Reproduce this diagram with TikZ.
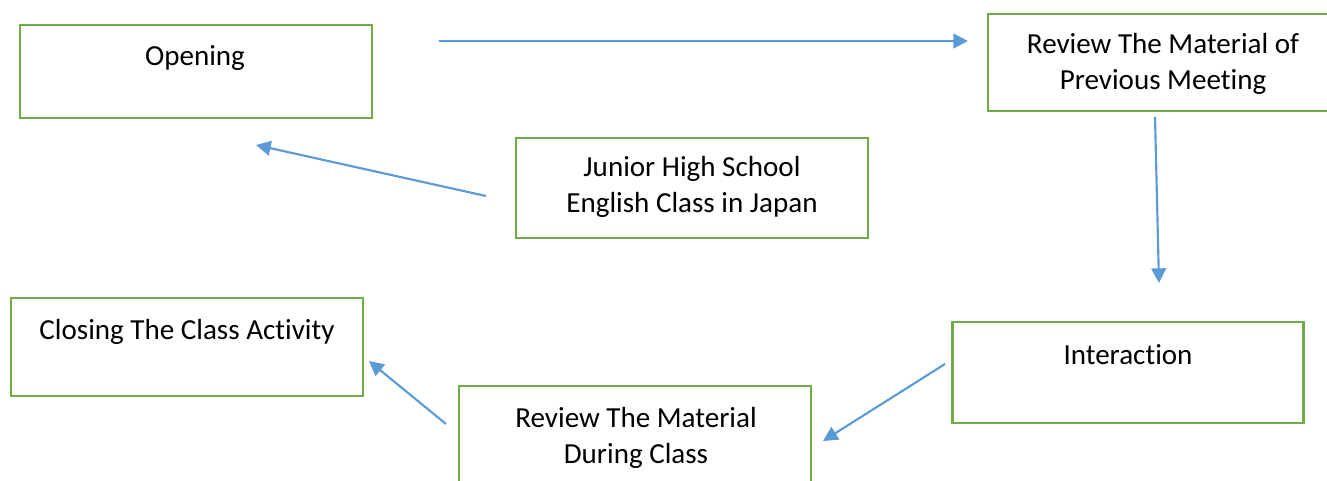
\documentclass[tikz,border=0pt]{standalone}
\usepackage{fontspec}
\setmainfont[Ligatures=NoCommon]{Carlito}
\usetikzlibrary{arrows.meta}
\definecolor{boxgreen}{HTML}{70AD47}
\definecolor{arrblue}{HTML}{5B9BD5}
\tikzset{
  box/.style={draw=boxgreen, line width=1.8pt, fill=white, inner sep=0pt},
  txt/.style={align=center, inner sep=0pt, font=\fontsize{21.8pt}{27pt}\selectfont, text=black},
  conn/.style={draw=arrblue, line width=1.6pt, -{Triangle[length=11pt,width=11pt]}}
}
\begin{document}
\begin{tikzpicture}[x=0.75pt,y=-0.75pt]
\useasboundingbox (0,0) rectangle (1327,481);
\clip (0,0) rectangle (1327,481);
% boxes
\node[box, minimum width=352*0.75pt, minimum height=93*0.75pt] (open) at (196,71.5) {};
\node[box, minimum width=350*0.75pt, minimum height=97*0.75pt] (prev) at (1163,62.5) {};
\node[box, minimum width=352*0.75pt, minimum height=100*0.75pt] (jhs) at (692,188) {};
\node[box, minimum width=352*0.75pt, minimum height=98*0.75pt] (clos) at (187,347) {};
\node[box, minimum width=351*0.75pt, minimum height=101*0.75pt] (inter) at (1128,372.5) {};
\node[box, minimum width=352*0.75pt, minimum height=110*0.75pt] (dur) at (635,441) {};
% texts
\node[txt] (topen) at (195,58) {Opening};
\node[txt] (tprev) at (1163,64) {Review The Material of\\Previous Meeting};
\node[txt] (tjhs) at (692,186.5) {Junior High School\\English Class in Japan};
\node[txt] (tclos) at (187,332) {Closing The Class Activity};
\node[txt] (tinter) at (1128,355) {Interaction};
\node[txt] (tdur) at (636,437.5) {Review The Material\\During Class};
% connector ends
\coordinate (a1s) at (439,41);
\coordinate (a1e) at (968,41);
\coordinate (a2s) at (486,196);
\coordinate (a2e) at (256,145);
\coordinate (a3s) at (1155,117);
\coordinate (a3e) at (1159,283);
\coordinate (a4s) at (945,364);
\coordinate (a4e) at (823,441);
\coordinate (a5s) at (446,424);
\coordinate (a5e) at (369,361);
% connectors
\draw[conn] (a1s) -- (a1e);
\draw[conn] (a2s) -- (a2e);
\draw[conn] (a3s) -- (a3e);
\draw[conn] (a4s) -- (a4e);
\draw[conn] (a5s) -- (a5e);
\end{tikzpicture}
\end{document}
